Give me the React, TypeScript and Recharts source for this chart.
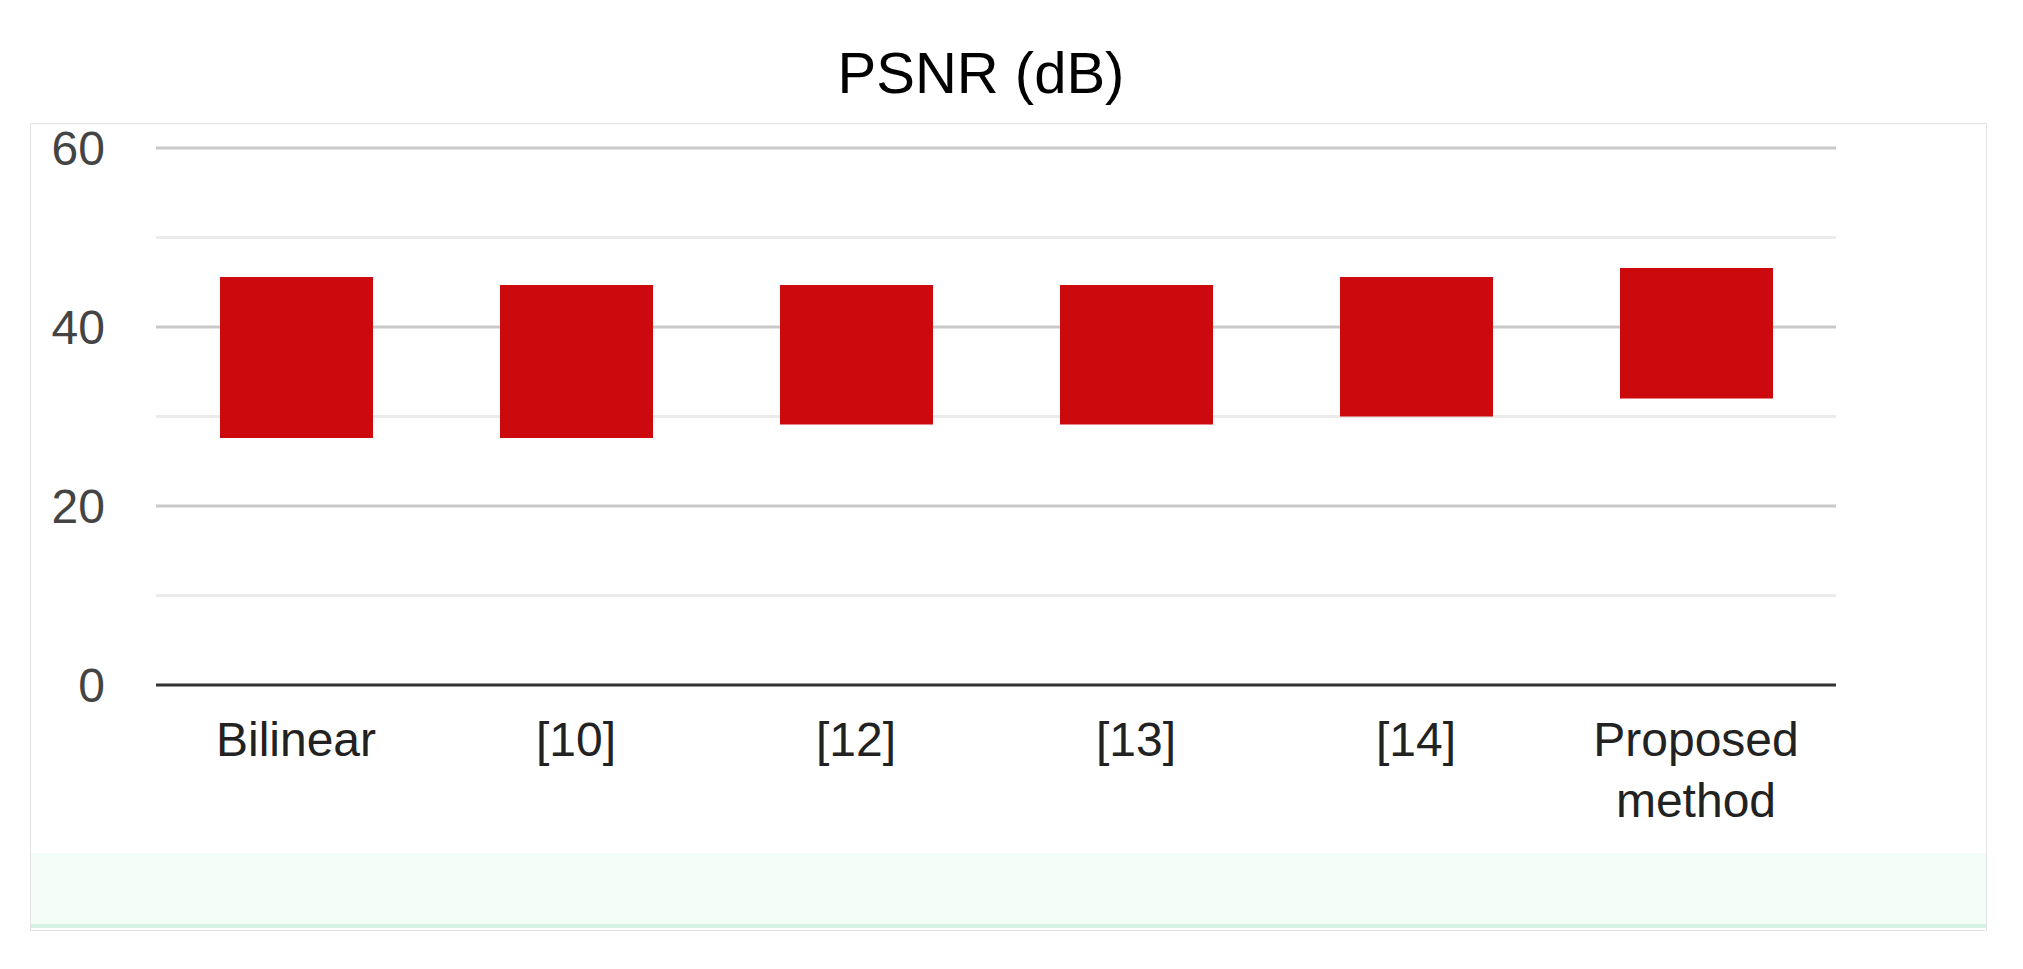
import { BarChart, Bar, XAxis, YAxis, CartesianGrid } from "recharts";

const methods = ["Bilinear", "[10]", "[12]", "[13]", "[14]", "Proposed method"];
const psnrLow = [27.6, 27.6, 29.1, 29.1, 30.0, 32.0];
const psnrHigh = [45.6, 44.7, 44.7, 44.7, 45.6, 46.6];
const yTicks = [0, 20, 40, 60];
const majorLines = [20, 40, 60];
const minorLines = [10, 30, 50];

const data = methods.map((name, i) => ({ name, range: [psnrLow[i], psnrHigh[i]] }));

const FONT = '"Liberation Sans", Arial, sans-serif';

// category labels wrap on spaces, one word per line
const CategoryTick = (props: any) => {
  const { x, y, payload } = props;
  const words = String(payload.value).split(" ");
  return (
    <text x={x} y={y} textAnchor="middle" fontSize={48} fontFamily={FONT} fill="#222">
      {words.map((w, i) => (
        <tspan key={i} x={x} dy={i === 0 ? 34 : 61}>
          {w}
        </tspan>
      ))}
    </text>
  );
};

export default function App() {
  return (
    <div style={{ position: "absolute", left: 0, top: 0, width: 2023, height: 969, background: "#fff", fontFamily: FONT }}>
      <div
        style={{
          position: "absolute",
          left: 30,
          top: 123,
          width: 1957,
          height: 808,
          boxSizing: "border-box",
          border: "1px solid #e3e3e3",
        }}
      />
      <div style={{ position: "absolute", left: 31, top: 853, width: 1955, height: 71, background: "#f4fcf8" }} />
      <div style={{ position: "absolute", left: 31, top: 924, width: 1955, height: 4, background: "#d6f2e5" }} />
      <div
        style={{
          position: "absolute",
          left: 681,
          top: 44,
          width: 600,
          textAlign: "center",
          fontSize: 58,
          lineHeight: "58px",
          color: "#000",
        }}
      >
        PSNR (dB)
      </div>
      <div style={{ position: "absolute", left: 0, top: 0 }}>
        <BarChart
          width={2023}
          height={969}
          data={data}
          margin={{ top: 148, right: 187, bottom: 184, left: 0 }}
        >
          <CartesianGrid vertical={false} horizontalValues={minorLines} stroke="#ebebeb" strokeWidth={3} />
          <CartesianGrid vertical={false} horizontalValues={majorLines} stroke="#c9c9c9" strokeWidth={3} />
          <XAxis
            dataKey="name"
            height={100}
            tickLine={false}
            tickSize={0}
            tickMargin={37}
            interval={0}
            axisLine={{ stroke: "#333", strokeWidth: 3 }}
            tick={<CategoryTick />}
          />
          <YAxis
            width={156}
            domain={[0, 60]}
            ticks={yTicks}
            axisLine={false}
            tickLine={false}
            tickSize={0}
            tickMargin={51}
            tick={{ fontSize: 48, fill: "#444", fontFamily: FONT }}
          />
          <Bar dataKey="range" fill="#cc0a0e" barSize={153} isAnimationActive={false} />
        </BarChart>
      </div>
    </div>
  );
}
